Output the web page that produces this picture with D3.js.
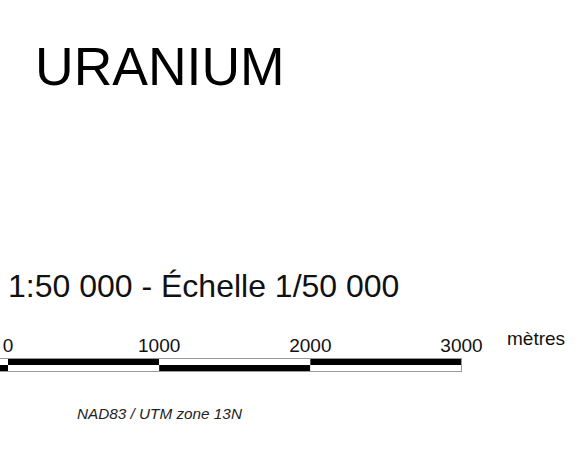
<!DOCTYPE html>
<html>
<head>
<meta charset="utf-8">
<script src="https://cdn.jsdelivr.net/npm/d3@7"></script>
<style>
  body { margin: 0; background: #fff; }
  svg { display: block; font-family: "Liberation Sans", Arial, sans-serif; }
</style>
</head>
<body>
<div id="chart"></div>
<script>
var title = "URANIUM",
    scaleText = "1:50 000 - Échelle 1/50 000",
    unitLabel = "mètres",
    projection = "NAD83 / UTM zone 13N";

// scale bar divisions (metres): top row fill, bottom row fill
var divisions = [
    { from: -1000, to: 0,    top: "#fff", bottom: "#000" },
    { from: 0,     to: 1000, top: "#000", bottom: "#fff" },
    { from: 1000,  to: 2000, top: "#fff", bottom: "#000" },
    { from: 2000,  to: 3000, top: "#000", bottom: "#fff" }
];
var tickValues = [0, 1000, 2000, 3000];

var width = 582,
    height = 456;

var svg = d3.select("#chart")
    .append("svg")
    .attr("width", width)
    .attr("height", height);

svg.append("text")
    .attr("x", 35)
    .attr("y", 85)
    .attr("font-size", 53.5)
    .attr("fill", "#000")
    .text(title);

svg.append("text")
    .attr("x", 8)
    .attr("y", 297)
    .attr("font-size", 32)
    .attr("fill", "#111")
    .text(scaleText);

var xScale = d3.scaleLinear()
    .domain([0, 3000])
    .range([8, 461.5]);

var barTop = 358, rowH = 7;

var bar = svg.append("g");

var seg = bar.selectAll("g")
    .data(divisions)
    .enter().append("g");

seg.append("rect")
    .attr("x", function(d){ return xScale(d.from); })
    .attr("y", barTop)
    .attr("width", function(d){ return xScale(d.to) - xScale(d.from); })
    .attr("height", rowH)
    .attr("fill", function(d){ return d.top; });

seg.append("rect")
    .attr("x", function(d){ return xScale(d.from); })
    .attr("y", barTop + rowH)
    .attr("width", function(d){ return xScale(d.to) - xScale(d.from); })
    .attr("height", rowH)
    .attr("fill", function(d){ return d.bottom; });

// thin grey outline round the whole bar
bar.append("rect")
    .attr("x", xScale(-1000))
    .attr("y", barTop + 0.5)
    .attr("width", xScale(3000) - xScale(-1000))
    .attr("height", rowH * 2 - 1)
    .attr("fill", "none")
    .attr("stroke", "#999")
    .attr("stroke-width", 1);

svg.append("g")
    .attr("font-size", 19)
    .attr("text-anchor", "middle")
    .attr("fill", "#111")
    .selectAll("text")
    .data(tickValues)
    .enter().append("text")
    .attr("x", function(d){ return xScale(d); })
    .attr("y", 352)
    .text(function(d){ return d; });

svg.append("text")
    .attr("x", 507)
    .attr("y", 345)
    .attr("font-size", 19)
    .attr("fill", "#111")
    .text(unitLabel);

svg.append("text")
    .attr("x", 77)
    .attr("y", 419)
    .attr("font-size", 15.3)
    .attr("font-style", "italic")
    .attr("fill", "#222")
    .text(projection);
</script>
</body>
</html>
